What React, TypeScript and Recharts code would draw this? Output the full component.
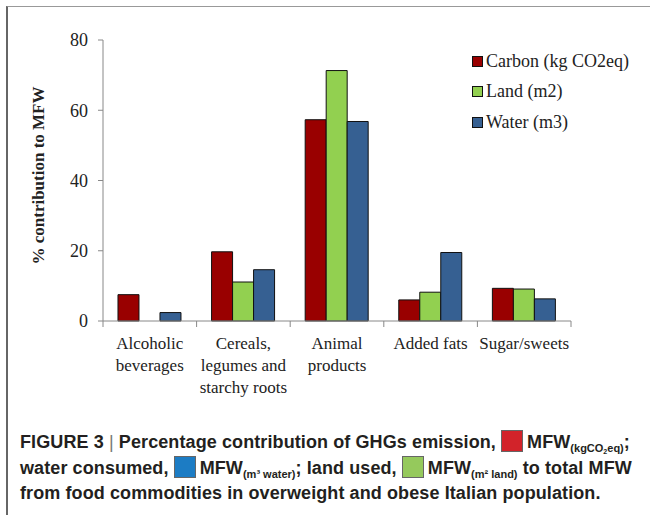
import React from "react";
import { BarChart, Bar, XAxis, YAxis } from "recharts";

const categories = [
  "Alcoholic\nbeverages",
  "Cereals,\nlegumes and\nstarchy roots",
  "Animal\nproducts",
  "Added fats",
  "Sugar/sweets",
];
const carbonValues: (number | null)[] = [7.5, 19.7, 57.3, 6.0, 9.3];
const landValues: (number | null)[] = [null, 11.1, 71.3, 8.2, 9.1];
const waterValues: (number | null)[] = [2.4, 14.6, 56.8, 19.5, 6.3];
const yTicks = [0, 20, 40, 60, 80];
const seriesNames = ["Carbon (kg CO2eq)", "Land (m2)", "Water (m3)"];
const seriesColors = ["#990000", "#92D050", "#366092"];
const yAxisLabel = "% contribution to MFW";

const data = categories.map((c, i) => ({
  name: c,
  carbon: carbonValues[i],
  land: landValues[i],
  water: waterValues[i],
}));

const CHART_W = 650;
const CHART_H = 400;
const MARGIN = { top: 40, right: 79, left: 0, bottom: 0 };
const Y_W = 103;
const X_H = 79;
const PLOT_W = CHART_W - MARGIN.left - MARGIN.right - Y_W;
const SERIF = "'Liberation Serif', 'Times New Roman', serif";
const SANS = "'Liberation Sans', Arial, sans-serif";

function CategoryTick(props: any) {
  const { x, y, payload, index } = props;
  const band = PLOT_W / categories.length;
  const lines = String(payload.value).split("\n");
  return (
    <g>
      <line x1={x - band / 2} x2={x - band / 2} y1={y} y2={y + 6} stroke="#888" strokeWidth={1} />
      {index === categories.length - 1 && (
        <line x1={x + band / 2} x2={x + band / 2} y1={y} y2={y + 6} stroke="#888" strokeWidth={1} />
      )}
      <text x={x} y={y + 28} textAnchor="middle" fontFamily={SERIF} fontSize={17} fill="#222">
        {lines.map((l, i) => (
          <tspan key={i} x={x} dy={i === 0 ? 0 : 22}>
            {l}
          </tspan>
        ))}
      </text>
    </g>
  );
}

function ChartLegend() {
  return (
    <div style={{ position: "absolute", left: 472, top: 46, fontFamily: SERIF, fontSize: 18, color: "#222" }}>
      {seriesNames.map((n, i) => (
        <div key={n} style={{ display: "flex", alignItems: "center", height: 30.5, whiteSpace: "nowrap" }}>
          <span
            style={{
              display: "inline-block",
              width: 9,
              height: 9,
              background: seriesColors[i],
              border: "1px solid #111",
              marginRight: 3,
            }}
          />
          <span>{n}</span>
        </div>
      ))}
    </div>
  );
}

function YLabel(props: any) {
  const vb = props.viewBox || { x: 0, y: 40, width: 103, height: 281 };
  const cx = vb.x + 38;
  const cy = vb.y + vb.height / 2 - 5;
  return (
    <text
      transform={`translate(${cx},${cy}) rotate(-90)`}
      textAnchor="middle"
      dominantBaseline="central"
      fontFamily={SERIF}
      fontWeight="bold"
      fontSize={17}
      fill="#222"
    >
      {yAxisLabel}
    </text>
  );
}

const sq = (color: string): React.CSSProperties => ({
  display: "inline-block",
  width: 20,
  height: 20,
  background: color,
  border: "1px solid #666",
  verticalAlign: "-4px",
  marginRight: 4,
});

const subStyle: React.CSSProperties = { fontSize: 11, verticalAlign: "-4px", lineHeight: 0, letterSpacing: 0 };

export default function App() {
  return (
    <div style={{ position: "absolute", left: 0, top: 0, width: 650, height: 515, background: "#fff", overflow: "hidden" }}>
      <div
        style={{
          position: "absolute",
          left: 6,
          top: 6,
          width: 660,
          height: 520,
          borderTop: "1.5px solid #999",
          borderLeft: "2px solid #666",
        }}
      />
      <div style={{ position: "absolute", left: 0, top: 0 }}>
        <BarChart width={CHART_W} height={CHART_H} data={data} margin={MARGIN} barCategoryGap="16%" barGap={0}>
          <XAxis
            dataKey="name"
            height={X_H}
            interval={0}
            tickLine={false}
            tickSize={0}
            tickMargin={0}
            stroke="#888"
            tick={<CategoryTick />}
          />
          <YAxis
            width={Y_W}
            domain={[0, 80]}
            ticks={yTicks}
            tickSize={5}
            tickMargin={10}
            stroke="#888"
            tick={{ fontFamily: SERIF, fontSize: 18, fill: "#222" }}
            label={<YLabel />}
          />
          <Bar dataKey="carbon" name={seriesNames[0]} fill={seriesColors[0]} stroke="#111" strokeWidth={1} isAnimationActive={false} />
          <Bar dataKey="land" name={seriesNames[1]} fill={seriesColors[1]} stroke="#111" strokeWidth={1} isAnimationActive={false} />
          <Bar dataKey="water" name={seriesNames[2]} fill={seriesColors[2]} stroke="#111" strokeWidth={1} isAnimationActive={false} />
        </BarChart>
      </div>
      <ChartLegend />
      <div
        style={{
          position: "absolute",
          left: 20,
          top: 430,
          fontFamily: SANS,
          fontWeight: "bold",
          fontSize: 18,
          letterSpacing: "0.1px",
          lineHeight: "25.5px",
          color: "#231f20",
          whiteSpace: "nowrap",
        }}
      >
        <div>
          FIGURE 3 <span style={{ fontWeight: "normal", color: "#777" }}>|</span> Percentage contribution of GHGs emission,{" "}
          <span style={sq("#d2232a")} />
          MFW<span style={subStyle}>(kgCO<span style={{ fontSize: 7, verticalAlign: "-2px" }}>2</span>eq)</span>;
        </div>
        <div>
          water consumed, <span style={sq("#1c7cc4")} />
          MFW<span style={subStyle}>(m³ water)</span>; land used, <span style={sq("#95c95c")} />
          MFW<span style={subStyle}>(m² land)</span> to total MFW
        </div>
        <div>from food commodities in overweight and obese Italian population.</div>
      </div>
    </div>
  );
}
